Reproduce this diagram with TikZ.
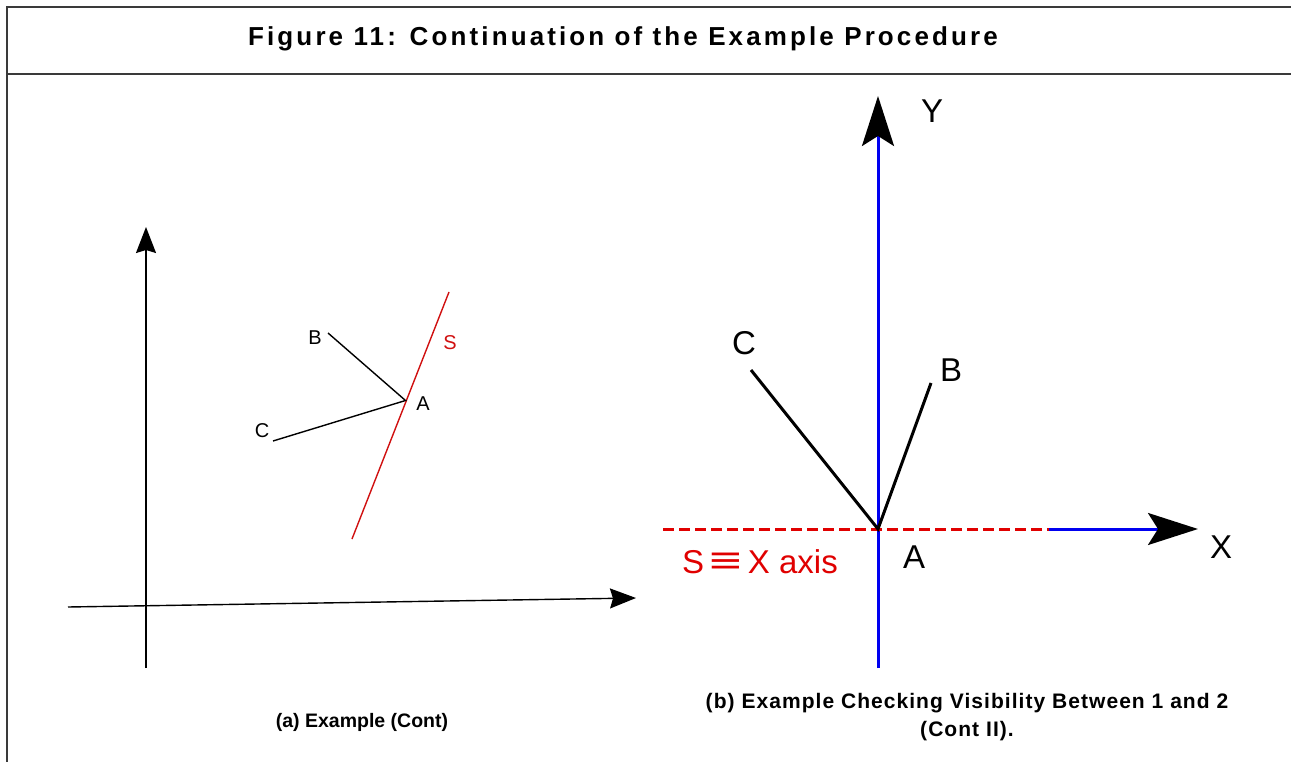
\documentclass[tikz,border=0pt]{standalone}
\usepackage{fontspec}
\setmainfont{Liberation Sans}
\usetikzlibrary{arrows.meta}
\definecolor{sred}{HTML}{E00000}
\definecolor{lred}{HTML}{D01010}
\definecolor{axblue}{HTML}{0000F0}
\definecolor{frame}{HTML}{3A3A3A}
\begin{document}
\begin{tikzpicture}[x=1pt,y=-1pt,
  framel/.style={draw=frame,line width=2.2pt},
  thinline/.style={draw=black,line width=1.4pt},
  thickline/.style={draw=black,line width=3pt},
  smallarrow/.style={-{Stealth[length=26pt,width=20pt,inset=3pt]}},
  bigarrow/.style={-{Stealth[length=50pt,width=32pt,inset=10pt,color=black]}},
  smalllbl/.style={font=\fontsize{20}{22}\selectfont,inner sep=0pt},
  biglbl/.style={font=\fontsize{33}{36}\selectfont,inner sep=0pt},
  caption/.style={font=\fontsize{19.5}{28}\selectfont\bfseries,inner sep=0pt,align=center}]
\useasboundingbox (0,0) rectangle (1291,762);
% frame
\draw[framel] (7,762) -- (7,7) -- (1291,7);
\draw[framel] (7,74) -- (1291,74);
\node[inner sep=0pt,font=\fontsize{26}{30}\selectfont\bfseries\addfontfeature{LetterSpace=12}] (title) at (623,39) {Figure 11: Continuation of the Example Procedure};
% ---------- left diagram ----------
\coordinate (vbot) at (146,668);
\coordinate (vtop) at (146,227);
\coordinate (hl) at (68,607);
\coordinate (hr) at (636,598);
\draw[thinline,smallarrow] (vbot) -- (vtop);
\draw[thinline,smallarrow] (hl) -- (hr);
\coordinate (sa) at (449,292);
\coordinate (sb) at (352,539);
\draw[draw=lred,line width=1.4pt] (sa) -- (sb);
\coordinate (pA) at (405.5,400.5);
\coordinate (pB) at (328,333);
\coordinate (pC) at (273,441);
\draw[thinline] (pB) -- (pA) -- (pC);
\node[smalllbl] (lB) at (315,338) {B};
\node[smalllbl] (lA) at (423,404) {A};
\node[smalllbl] (lC) at (262,431) {C};
\node[smalllbl,text=lred] (lS) at (450,343) {S};
% ---------- right diagram ----------
\coordinate (O) at (878,529);
\coordinate (ybot) at (878,668);
\coordinate (ytop) at (878,96);
\coordinate (xl) at (663,529);
\coordinate (xm) at (1049,529);
\coordinate (xr) at (1198,529);
\draw[draw=axblue,line width=3pt,bigarrow] (ybot) -- (ytop);
\draw[draw=sred,line width=3pt,dash pattern=on 11pt off 5pt] (xl) -- (xm);
\draw[draw=axblue,line width=3pt,bigarrow] (xm) -- (xr);
\coordinate (qB) at (931,383);
\coordinate (qC) at (751,370);
\draw[thickline] (qC) -- (O) -- (qB);
\node[biglbl] (rY) at (932,111) {Y};
\node[biglbl] (rX) at (1221,547) {X};
\node[biglbl] (rA) at (914,557) {A};
\node[biglbl] (rB) at (951,370) {B};
\node[biglbl] (rC) at (744,343) {C};
\node[biglbl,text=sred] (rS) at (760,562) {S\,\raisebox{0.5pt}{\scalebox{1.7}[1.15]{≡}}\,X axis};
% captions
\node[caption] (capa) at (362,722) {(a) Example (Cont)};
\node[caption,font=\fontsize{21}{28}\selectfont\bfseries\addfontfeature{LetterSpace=5}] (capb) at (967,717) {(b) Example Checking Visibility Between 1 and 2\\(Cont II).};
\end{tikzpicture}
\end{document}
